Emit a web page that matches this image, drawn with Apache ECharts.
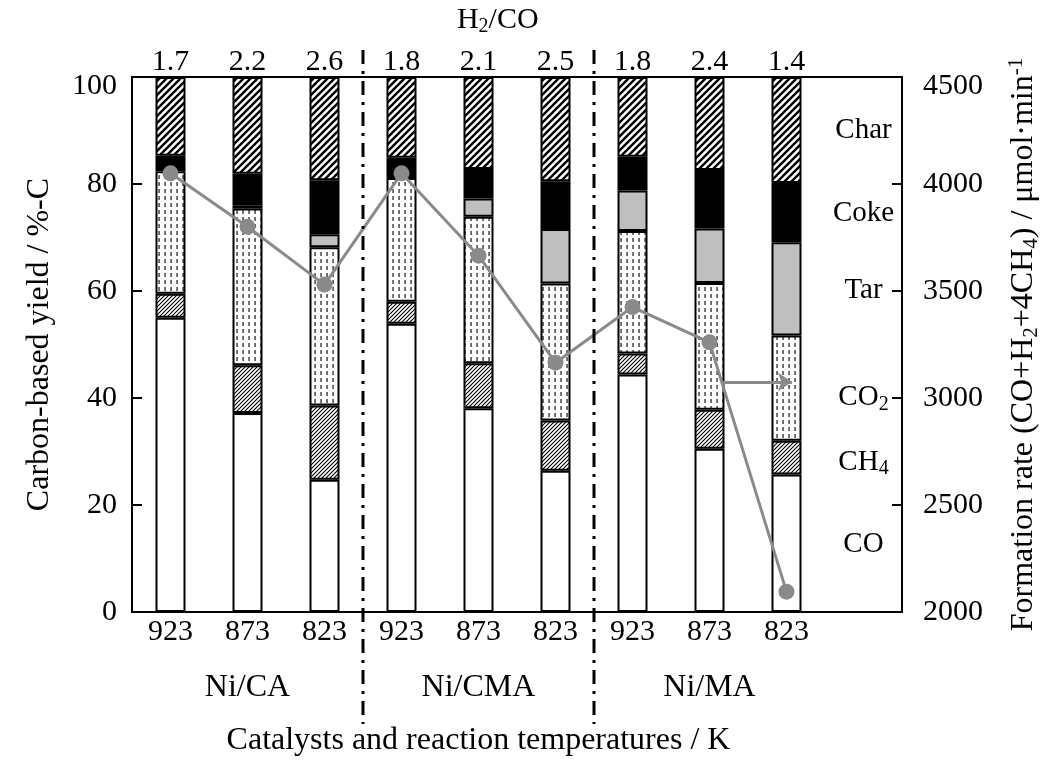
<!DOCTYPE html>
<html><head><meta charset="utf-8">
<script src="https://cdn.jsdelivr.net/npm/echarts@6/dist/echarts.min.js"></script>
<style>html,body{margin:0;padding:0;background:#fff}#c{width:1042px;height:760px}</style>
</head><body><div id="c"></div>
<script>
// ---------- data ----------
const categories = ['923','873','823','923','873','823','923','873','823',''];
const h2coLabels = ['1.7','2.2','2.6','1.8','2.1','2.5','1.8','2.4','1.4',''];
const groups = ['Ni/CA','Ni/CMA','Ni/MA'];
const coYield   = [55.0, 37.2, 24.7, 53.9, 38.1, 26.4, 44.4, 30.5, 25.7];
const ch4Yield  = [ 4.5,  8.9, 13.9,  4.1,  8.4,  9.4,  3.9,  7.3,  6.3];
const co2Yield  = [22.9, 29.3, 29.6, 23.1, 27.4, 25.6, 22.9, 23.7, 19.7];
const tarYield  = [ 0.4,  0.6,  2.4,  0.4,  3.4, 10.2,  7.6, 10.2, 17.4];
const cokeYield = [ 2.5,  5.9, 10.1,  3.4,  5.5,  8.9,  6.3, 10.9, 11.1];
const charYield = [14.7, 18.1, 19.3, 15.1, 17.2, 19.5, 14.9, 17.4, 19.8];
const formationRate = [4050, 3800, 3530, 4050, 3665, 3165, 3425, 3260, 2095];
const leftTicks = [0, 100, 20];      // min, max, interval
const rightTicks = [2000, 4500, 500];
// arrow pointing to the right axis (x in category units, y in formation-rate units)
const arrowFrom = [7.17, 3075];
const arrowTo   = [8.07, 3075];
// series labels drawn at the right side, at left-axis values
const seriesNames = ['Char','Coke','Tar','CO2','CH4','CO'];
const seriesLabelAt = [90.0, 74.5, 60.1, 40.1, 28.0, 12.7];

// ---------- styles ----------
const FONT = 'Liberation Serif';
function hatch(size, lw) {
  const c = document.createElement('canvas'); c.width = c.height = size;
  const g = c.getContext('2d');
  g.fillStyle = '#fff'; g.fillRect(0,0,size,size);
  g.strokeStyle = '#000'; g.lineWidth = lw; g.beginPath();
  g.moveTo(-1, size+1); g.lineTo(size+1, -1);
  g.moveTo(-1, 1); g.lineTo(1, -1);
  g.moveTo(size-1, size+1); g.lineTo(size+1, size-1);
  g.stroke();
  return c;
}
function dashes() {
  const c = document.createElement('canvas'); c.width = 6; c.height = 7;
  const g = c.getContext('2d');
  g.fillStyle = '#fff'; g.fillRect(0,0,6,7);
  g.fillStyle = '#000'; g.fillRect(2.5, 0, 1.1, 4);
  return c;
}
const fills = {
  CO: '#ffffff',
  CH4: {image: hatch(4, 1.1), repeat: 'repeat'},
  CO2: {image: dashes(), repeat: 'repeat'},
  Tar: '#bfbfbf',
  Coke: '#000000',
  Char: {image: hatch(7, 2.4), repeat: 'repeat'}
};
const barSeries = [
  ['CO', coYield], ['CH4', ch4Yield], ['CO2', co2Yield],
  ['Tar', tarYield], ['Coke', cokeYield], ['Char', charYield]
].map(([n, d]) => ({
  name: n, type: 'bar', stack: 'y', barWidth: 30, data: d,
  xAxisIndex: 0, yAxisIndex: 0,
  itemStyle: {color: fills[n], borderColor: '#000', borderWidth: 2},
  emphasis: {disabled: true}, animation: false
}));

const chart = echarts.init(document.getElementById('c'), null, {renderer: 'canvas'});
const txt = {fontFamily: FONT, color: '#000'};
const tickRich = {t: {fontFamily: FONT, fontSize: 30, color: '#000', padding: [18, 0, 0, 0]}};
chart.setOption({
  animation: false,
  grid: {left: 132, right: 140, top: 77, bottom: 148, show: true, borderColor: '#000', borderWidth: 2,
         containLabel: false, outerBoundsMode: 'none'},
  xAxis: [
    {type: 'category', data: categories, position: 'bottom',
     axisLine: {show: false}, axisTick: {show: false},
     axisLabel: Object.assign({fontSize: 30, margin: 5, interval: 0}, txt)},
    {type: 'category', data: h2coLabels, position: 'top',
     axisLine: {show: false}, axisTick: {show: false},
     axisLabel: Object.assign({fontSize: 30, margin: 0, interval: 0}, txt)},
    {type: 'value', min: 0, max: 10, show: false}
  ],
  yAxis: [
    {type: 'value', min: leftTicks[0], max: leftTicks[1], interval: leftTicks[2],
     axisLine: {show: false}, splitLine: {show: false},
     axisTick: {show: true, inside: true, length: 10, lineStyle: {color: '#000', width: 2}},
     axisLabel: Object.assign({fontSize: 30, margin: 15, rich: tickRich,
       formatter: v => v === leftTicks[1] ? '{t|' + v + '}' : String(v)}, txt),
     name: 'Carbon-based yield / %-C', nameLocation: 'middle', nameGap: 76,
     nameTextStyle: Object.assign({fontSize: 32}, txt)},
    {type: 'value', min: rightTicks[0], max: rightTicks[1], interval: rightTicks[2], position: 'right',
     axisLine: {show: false}, splitLine: {show: false},
     axisTick: {show: true, inside: true, length: 10, lineStyle: {color: '#000', width: 2}},
     axisLabel: Object.assign({fontSize: 30, margin: 21, rich: tickRich,
       formatter: v => v === rightTicks[1] ? '{t|' + v + '}' : String(v)}, txt),
     name: '{n|Formation rate (CO+H}{s|2}{n|+4CH}{s|4}{n|) / μmol·min}{p|-1}',
     nameLocation: 'middle', nameGap: 104,
     nameTextStyle: {rich: {
       n: {fontFamily: FONT, fontSize: 32, color: '#000', lineHeight: 36},
       s: {fontFamily: FONT, fontSize: 21, color: '#000', lineHeight: 22, verticalAlign: 'bottom'},
       p: {fontFamily: FONT, fontSize: 21, color: '#000', lineHeight: 20, verticalAlign: 'top'}
     }}}
  ],
  series: barSeries.concat([
    {name: 'rate', type: 'line', data: formationRate, xAxisIndex: 0, yAxisIndex: 1,
     symbol: 'circle', symbolSize: 16, z: 5,
     itemStyle: {color: '#8a8a8a'}, lineStyle: {color: '#8a8a8a', width: 3},
     emphasis: {disabled: true}},
    {name: 'arrow', type: 'lines', coordinateSystem: 'cartesian2d', xAxisIndex: 2, yAxisIndex: 1, z: 5,
     symbol: ['none', 'arrow'], symbolSize: 14,
     lineStyle: {color: '#8a8a8a', width: 3, opacity: 1},
     data: [{coords: [[arrowFrom[0] + 0.5, arrowFrom[1]], [arrowTo[0] + 0.5, arrowTo[1]]]}]}
  ])
});

// ---------- annotations placed from the axes ----------
const px = v => chart.convertToPixel({xAxisIndex: 2}, v);
const pyL = v => chart.convertToPixel({yAxisIndex: 0}, v);
const g = [];
[3, 6].forEach(b => {
  const x = px(b);
  g.push({type: 'line', z: 10, shape: {x1: x, y1: 50, x2: x, y2: 724},
    style: {stroke: '#000', lineWidth: 3, lineDash: [14, 7, 3, 7]}});
});
groups.forEach((name, i) => {
  g.push({type: 'text', z: 10, x: px(i * 3 + 1.5), y: 688,
    style: {text: name, font: '32px "' + FONT + '"', fill: '#000', align: 'center', verticalAlign: 'middle'}});
});
g.push({type: 'text', z: 10, x: px(4.5), y: 741,
  style: {text: 'Catalysts and reaction temperatures / K', font: '32px "' + FONT + '"', fill: '#000', align: 'center', verticalAlign: 'middle'}});
g.push({type: 'text', z: 10, x: px(4.75), y: 20,
  style: {text: '{n|H}{s|2}{n|/CO}', align: 'center', verticalAlign: 'middle',
    rich: {n: {fontFamily: FONT, fontSize: 30, fill: '#000', lineHeight: 34},
           s: {fontFamily: FONT, fontSize: 20, fill: '#000', lineHeight: 20, verticalAlign: 'bottom'}}}});
seriesNames.forEach((n, i) => {
  const m = n.match(/^([A-Za-z]+?)(\d)$/);
  const t = m ? '{n|' + m[1] + '}{s|' + m[2] + '}' : '{n|' + n + '}';
  g.push({type: 'text', z: 10, x: px(9.5), y: pyL(seriesLabelAt[i]),
    style: {text: t, align: 'center', verticalAlign: 'middle',
      rich: {n: {fontFamily: FONT, fontSize: 29, fill: '#000', lineHeight: 34},
             s: {fontFamily: FONT, fontSize: 20, fill: '#000', lineHeight: 24, verticalAlign: 'bottom'}}}});
});
chart.setOption({graphic: g});
</script>
</body></html>
